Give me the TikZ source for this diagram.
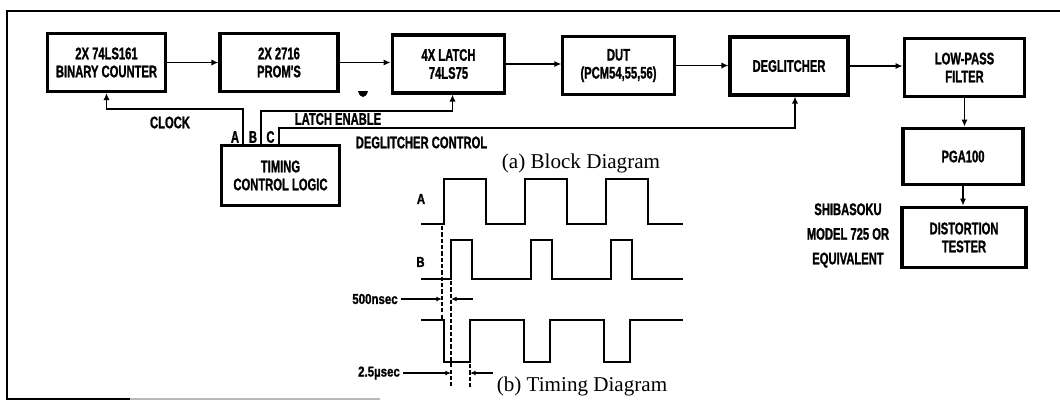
\documentclass[tikz,border=0pt]{standalone}
\usepackage{fontspec}
\usepackage{tikz}
\usetikzlibrary{arrows.meta, calc, positioning}
\newfontfamily\blkfont[FakeStretch=0.67, BoldFeatures={FakeBold=1.2}]{Liberation Sans}
\newfontfamily\tmfont[FakeStretch=0.8, BoldFeatures={FakeBold=1.2}]{Liberation Sans}
\newfontfamily\capfont{Liberation Serif}
\newcommand\Wd{2.95cm}

\begin{document}
\begin{tikzpicture}[x=0.025cm, y=-0.025cm,
    blk/.style = {draw, line width=2.2pt, minimum width=\Wd, minimum height=1.45cm, inner sep=0pt, align=center,
                  font=\blkfont\bfseries\fontsize{11.9}{12.8}\selectfont},
    lbl/.style = {inner sep=0pt, align=center, font=\blkfont\bfseries\fontsize{11.9}{12.8}\selectfont},
    tlbl/.style = {inner sep=0pt, font=\tmfont\bfseries\fontsize{10.2}{11}\selectfont},
    conn/.style = {line width=1.4pt, -{Latex[length=5pt,width=4.5pt]}},
    dim/.style = {line width=1pt, -{Latex[length=4pt,width=3.5pt]}},
    wave/.style = {line width=1.6pt},
    guide/.style = {line width=1pt, dash pattern=on 3pt off 1.5pt}]
  \useasboundingbox (0,0) rectangle (1060,403);

  % frame (partly cut off in the scan)
  \draw[line width=1.6pt] (1060,11) -- (7,11) -- (7,399) -- (130,399);
  \draw[gray!55, line width=1pt] (130,399) -- (380,399);

  % signal chain
  \node[blk] (cnt) at (106.5,62.5) {2X 74LS161\\BINARY COUNTER};
  \node[blk] (prom) at (279,62.5) {2X 2716\\PROM'S};
  \node[blk, minimum width=2.82cm] (latch) at (448.5,64) {4X LATCH\\74LS75};
  \node[blk, minimum width=2.78cm] (dut) at (618.5,65.5) {DUT\\(PCM54,55,56)};
  \node[blk] (degl) at (789,66) {DEGLITCHER};
  \node[blk, minimum width=3.02cm] (lpf) at (964.5,67.5) {LOW-PASS\\FILTER};
  \node[blk, minimum width=3cm, minimum height=1.42cm] (pga) at (963,156.5) {PGA100};
  \node[blk, minimum width=3.1cm, minimum height=1.52cm] (dist) at (964,237.5) {DISTORTION\\TESTER};
  \node[blk, minimum height=1.48cm] (tcl) at (280.5,175.5) {TIMING\\CONTROL LOGIC};

  \draw[conn] (cnt.east) -- (cnt.east -| prom.west);
  \draw[conn] (prom.east) -- (prom.east -| latch.west);
  \draw[conn] (latch.east) -- (latch.east -| dut.west);
  \draw[conn] (dut.east) -- (dut.east -| degl.west);
  \draw[conn] (degl.east) -- (degl.east -| lpf.west);
  \draw[conn] (lpf.south) -- (lpf.south |- pga.north);
  \draw[conn] (pga.south) -- (pga.south |- dist.north);
  \fill (358,91) .. controls (360,99) and (366,99) .. (368,91) -- cycle;

  % control lines
  \coordinate (pA) at (243,0 |- tcl.north);
  \coordinate (pB) at (261,0 |- tcl.north);
  \coordinate (pC) at (279,0 |- tcl.north);
  \draw[conn] (pA) -- (pA |- 0,109) -| (cnt.south);
  \draw[conn] (pB) -- (pB |- 0,111) -| ($(latch.south)+(4,0)$);
  \draw[conn] (pC) -- (pC |- 0,128) -| ($(degl.south)+(6,0)$);

  \node[lbl] (clk) at (170,122.5) {CLOCK};
  \node[lbl] (la) at (235,137) {A};
  \node[lbl] (lb) at (253,137) {B};
  \node[lbl] (lc) at (270.5,137) {C};
  \node[lbl] (len) at (338,119) {LATCH ENABLE};
  \node[lbl] (lctl) at (421.5,142.5) {DEGLITCHER CONTROL};
  \node[lbl, font=\blkfont\bfseries\fontsize{11.9}{17.5}\selectfont] (shiba) at (848,235.5) {SHIBASOKU\\MODEL 725 OR\\EQUIVALENT};

  \node[anchor=base, inner sep=0pt, font=\capfont\fontsize{15}{17}\selectfont] (capa) at (581,168) {(a) Block Diagram};
  \node[anchor=base, inner sep=0pt, font=\capfont\fontsize{15}{17}\selectfont] (capb) at (582,391) {(b) Timing Diagram};

  % timing waveforms
  \node[tlbl] (ta) at (421,199) {A};
  \node[tlbl] (tb) at (420.5,262) {B};
  \draw[wave] (421,224) \foreach \i in {0,1,2}{ -- (444+81*\i,224) -- (444+81*\i,179) -- (486+81*\i,179) -- (486+81*\i,224)} -- (683,224);
  \draw[wave] (421,279) \foreach \i in {0,1,2}{ -- (451+80*\i,279) -- (451+80*\i,240) -- (472+80*\i,240) -- (472+80*\i,279)} -- (683,279);
  \draw[wave] (421,320) \foreach \i in {0,1,2}{ -- (444+80*\i,320) -- (444+80*\i,362) -- (470+80*\i,362) -- (470+80*\i,320)} -- (683,320);

  \coordinate (eA) at (442,226);
  \coordinate (eB) at (451,281);
  \coordinate (eC) at (470,364);
  \draw[guide] (eA) -- (eA |- 0,320);
  \draw[guide] (eB) -- (eB |- 0,388);
  \draw[guide] (eC) -- (eC |- 0,388);

  \node[tlbl] (l500) at (375,299) {500nsec};
  \node[tlbl] (l25) at (379,373) {2.5µsec};
  \coordinate (r500) at (473,299);
  \coordinate (r25) at (493,373);
  \draw[dim] ([xshift=2pt]l500.east) -- (l500.east -| eA);
  \draw[dim] (r500) -- (r500 -| eB);
  \draw[dim] ([xshift=2pt]l25.east) -- (l25.east -| eB);
  \draw[dim] (r25) -- (r25 -| eC);
\end{tikzpicture}
\end{document}
